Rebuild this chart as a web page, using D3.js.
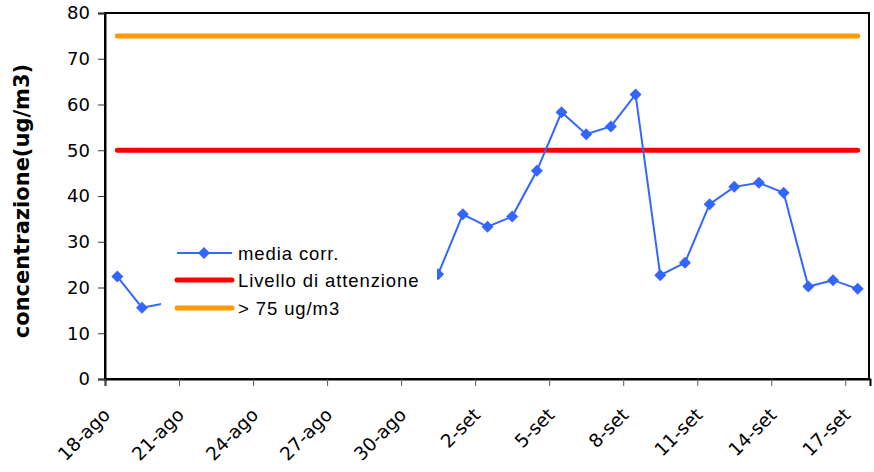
<!DOCTYPE html>
<html>
<head>
<meta charset="utf-8">
<script src="https://cdn.jsdelivr.net/npm/d3@7"></script>
<style>
  html, body { margin: 0; padding: 0; background: #fff; }
  svg { display: block; }
</style>
</head>
<body>
<svg id="chart" width="874" height="472"></svg>
<script>
const categories = [
  "18-ago","19-ago","20-ago","21-ago","22-ago","23-ago","24-ago","25-ago","26-ago","27-ago",
  "28-ago","29-ago","30-ago","31-ago","1-set","2-set","3-set","4-set","5-set","6-set",
  "7-set","8-set","9-set","10-set","11-set","12-set","13-set","14-set","15-set","16-set","17-set"
];
// values hidden behind the legend are unknown -> null
const mediaCorr = [
  22.4, 15.6, 16.6, null, null, null, null, null, null, null,
  null, null, null, 22.9, 36.0, 33.3, 35.5, 45.5, 58.3, 53.5,
  55.2, 62.2, 22.7, 25.4, 38.2, 42.0, 42.9, 40.7, 20.2, 21.6, 19.7
];
const attentionLevel = 50;
const limitLevel = 75;
const yTicks = [0, 10, 20, 30, 40, 50, 60, 70, 80];
const xLabelEvery = 3;
const seriesNames = ["media corr.", "Livello di attenzione", "> 75 ug/m3"];
const colors = { media: "#3366FF", attention: "#FF0000", limit: "#FF9900" };

(function () {
const svg = d3.select("#chart");
const pLeft = 105, pRight = 870, pTop = 13, pBottom = 379;

const x = d3.scaleBand().domain(categories).range([pLeft, pRight]).padding(0);
const xb = d3.scaleLinear().domain([0, categories.length]).range([pLeft, pRight]);
const y = d3.scaleLinear().domain([0, 80]).range([pBottom, pTop]);

// plot frame
svg.append("rect")
  .attr("x", pLeft).attr("y", pTop)
  .attr("width", 764).attr("height", pBottom - pTop)
  .attr("fill", "none").attr("stroke", "#000").attr("stroke-width", 2);

// y axis
const yAxis = svg.append("g").attr("transform", `translate(${pLeft},0)`)
  .call(d3.axisLeft(y).tickValues(yTicks).tickSize(7).tickPadding(8).tickFormat(d3.format("d")));
yAxis.select(".domain").attr("stroke", "#000").attr("stroke-width", 2);
yAxis.selectAll(".tick line").attr("stroke", "#333");
yAxis.selectAll("text").attr("font-family", "DejaVu Sans").attr("font-size", 18).attr("fill", "#000");

// x axis ticks at category boundaries
const tickIdx = d3.range(0, categories.length, xLabelEvery);
const xAxis = svg.append("g").attr("transform", `translate(0,${pBottom})`)
  .call(d3.axisBottom(xb).tickValues(tickIdx).tickSize(7).tickFormat(""));
xAxis.select(".domain").attr("stroke", "#000").attr("stroke-width", 2);
xAxis.selectAll(".tick line").attr("stroke", "#555");

// x labels
svg.append("g").selectAll("text")
  .data(tickIdx.map(i => categories[i]))
  .join("text")
  .attr("transform", d => `translate(${x(d) + x.bandwidth() / 2 - 6},${pBottom + 37}) rotate(-45)`)
  .attr("text-anchor", "end")
  .attr("font-family", "DejaVu Sans")
  .attr("font-size", 18.5)
  .attr("fill", "#000")
  .text(d => d);

// y title
svg.append("text")
  .attr("transform", `translate(29,201) rotate(-90)`)
  .attr("text-anchor", "middle")
  .attr("font-family", "DejaVu Sans")
  .attr("font-weight", "bold")
  .attr("font-size", 21)
  .attr("fill", "#000")
  .text("concentrazione(ug/m3)");

const cx = d => x(d) + x.bandwidth() / 2;
const first = categories[0], last = categories[categories.length - 1];

// threshold lines
[[limitLevel, colors.limit], [attentionLevel, colors.attention]].forEach(([v, c]) => {
  svg.append("line")
    .attr("x1", cx(first)).attr("x2", cx(last))
    .attr("y1", y(v)).attr("y2", y(v))
    .attr("stroke", c).attr("stroke-width", 5).attr("stroke-linecap", "round");
});

// media line
const pts = categories.map((c, i) => ({ c, v: mediaCorr[i] }));
svg.append("path")
  .datum(pts)
  .attr("fill", "none")
  .attr("stroke", colors.media)
  .attr("stroke-width", 2)
  .attr("d", d3.line().defined(d => d.v != null).x(d => cx(d.c)).y(d => y(d.v)));

const diamond = d3.symbol().type(d3.symbolSquare).size(72);
svg.append("g").selectAll("path")
  .data(pts.filter(d => d.v != null))
  .join("path")
  .attr("transform", d => `translate(${cx(d.c)},${y(d.v)}) rotate(45)`)
  .attr("d", diamond)
  .attr("fill", colors.media);

// legend (opaque)
const lg = svg.append("g");
lg.append("rect").attr("x", 161).attr("y", 237).attr("width", 276).attr("height", 88).attr("fill", "#fff");
const rows = [
  { name: seriesNames[0], color: colors.media, w: 2, marker: true, yy: 253 },
  { name: seriesNames[1], color: colors.attention, w: 5, marker: false, yy: 280 },
  { name: seriesNames[2], color: colors.limit, w: 5, marker: false, yy: 308 }
];
rows.forEach(r => {
  lg.append("line").attr("x1", 177).attr("x2", 232).attr("y1", r.yy).attr("y2", r.yy)
    .attr("stroke", r.color).attr("stroke-width", r.w).attr("stroke-linecap", r.marker ? "butt" : "round");
  if (r.marker) {
    lg.append("path").attr("transform", `translate(204,${r.yy}) rotate(45)`).attr("d", diamond).attr("fill", r.color);
  }
  lg.append("text").attr("x", 238).attr("y", r.yy + 7)
    .attr("font-family", "Liberation Sans").attr("font-size", 18.5).attr("letter-spacing", 0.9)
    .attr("fill", "#000").text(r.name);
});
})();
</script>
</body>
</html>
